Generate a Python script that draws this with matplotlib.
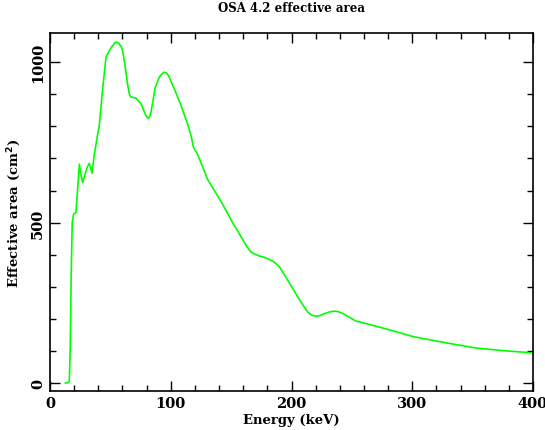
import numpy as np
import matplotlib
matplotlib.use('Agg')
import matplotlib.pyplot as plt
from matplotlib.ticker import MultipleLocator

# energy (keV) and effective area (cm^2)
energy = [12.7, 14.5, 16.0, 16.8, 17.6, 18.4, 19.5, 21.5, 22.8, 24.3, 25.6, 27.0,
          29.0, 30.8, 32.5, 33.8, 34.8, 36.7, 38.8, 40.8, 43.6, 46.4, 49.1,
          51.5, 54.1, 56.0, 57.4, 59.0, 60.1, 61.5, 62.9, 64.3, 65.7, 66.5,
          67.6, 71.2, 75.4, 78.9, 80.2, 81.4, 82.5, 83.6, 85.3, 87.2, 90.5,
          92.5, 94.7, 96.5, 98.2, 102.9, 108.5, 114.0, 116.8, 118.9, 122.2,
          130.5, 143.0, 151.2, 159.5, 163.0, 166.5, 170.0, 173.3, 178.0,
          184.4, 187.0, 189.9, 198.2, 206.5, 213.4, 217.0, 220.3, 223.5,
          227.2, 231.0, 235.4, 239.0, 242.3, 247.0, 253.4, 264.0, 278.8,
          300.3, 325.2, 352.8, 377.7, 399.8]
area = [0, 0, 5, 120, 350, 500, 526, 532, 600, 682, 650, 625,
        650, 672, 685, 670, 654, 713, 760, 802, 917, 1016, 1036,
        1050, 1062, 1062, 1057, 1048, 1036, 1005, 969, 930, 901, 893,
        891, 888, 870, 838, 829, 825, 830, 844, 880, 922, 953,
        963, 969, 966, 958, 917, 865, 807, 771, 734, 713,
        635, 557, 500, 448, 425, 408, 401, 396, 391,
        380, 373, 363, 312, 260, 221, 211, 208, 210,
        216, 221, 224, 222, 217, 207, 193, 183, 168,
        145, 127, 109, 100, 94]

title = 'OSA 4.2 effective area'
xlabel = 'Energy (keV)'
ylabel = 'Effective area (cm$^{\\mathbf{2}}$)'

plt.rcParams['font.family'] = 'DejaVu Serif'
plt.rcParams['font.weight'] = 'bold'
plt.rcParams['mathtext.default'] = 'bf'

fig = plt.figure(figsize=(5.45, 4.31), dpi=100)
ax = fig.add_axes([50/545, 39/431, 483/545, 358/431])

ax.plot(energy, area, color='#00ff00', lw=1.2)

ax.set_xlim(0, 400)
ax.set_ylim(-25, 1091)
ax.xaxis.set_major_locator(MultipleLocator(100))
ax.xaxis.set_minor_locator(MultipleLocator(20))
ax.yaxis.set_major_locator(MultipleLocator(500))
ax.yaxis.set_minor_locator(MultipleLocator(100))
ax.tick_params(which='both', direction='in', top=True, right=True, width=1, labelsize=10.5)
ax.tick_params(which='major', length=7)
ax.tick_params(which='minor', length=4)
for lab in ax.get_yticklabels():
    lab.set_rotation(90)
    lab.set_va('center')
for sp in ax.spines.values():
    sp.set_linewidth(1.2)

ax.set_title(title, fontsize=8.5, fontweight='bold', pad=16)
ax.set_xlabel(xlabel, fontsize=9.5, fontweight='bold', labelpad=2)
ax.set_ylabel(ylabel, fontsize=9.5, fontweight='bold', labelpad=6)

fig.savefig('out.png', dpi=100)
